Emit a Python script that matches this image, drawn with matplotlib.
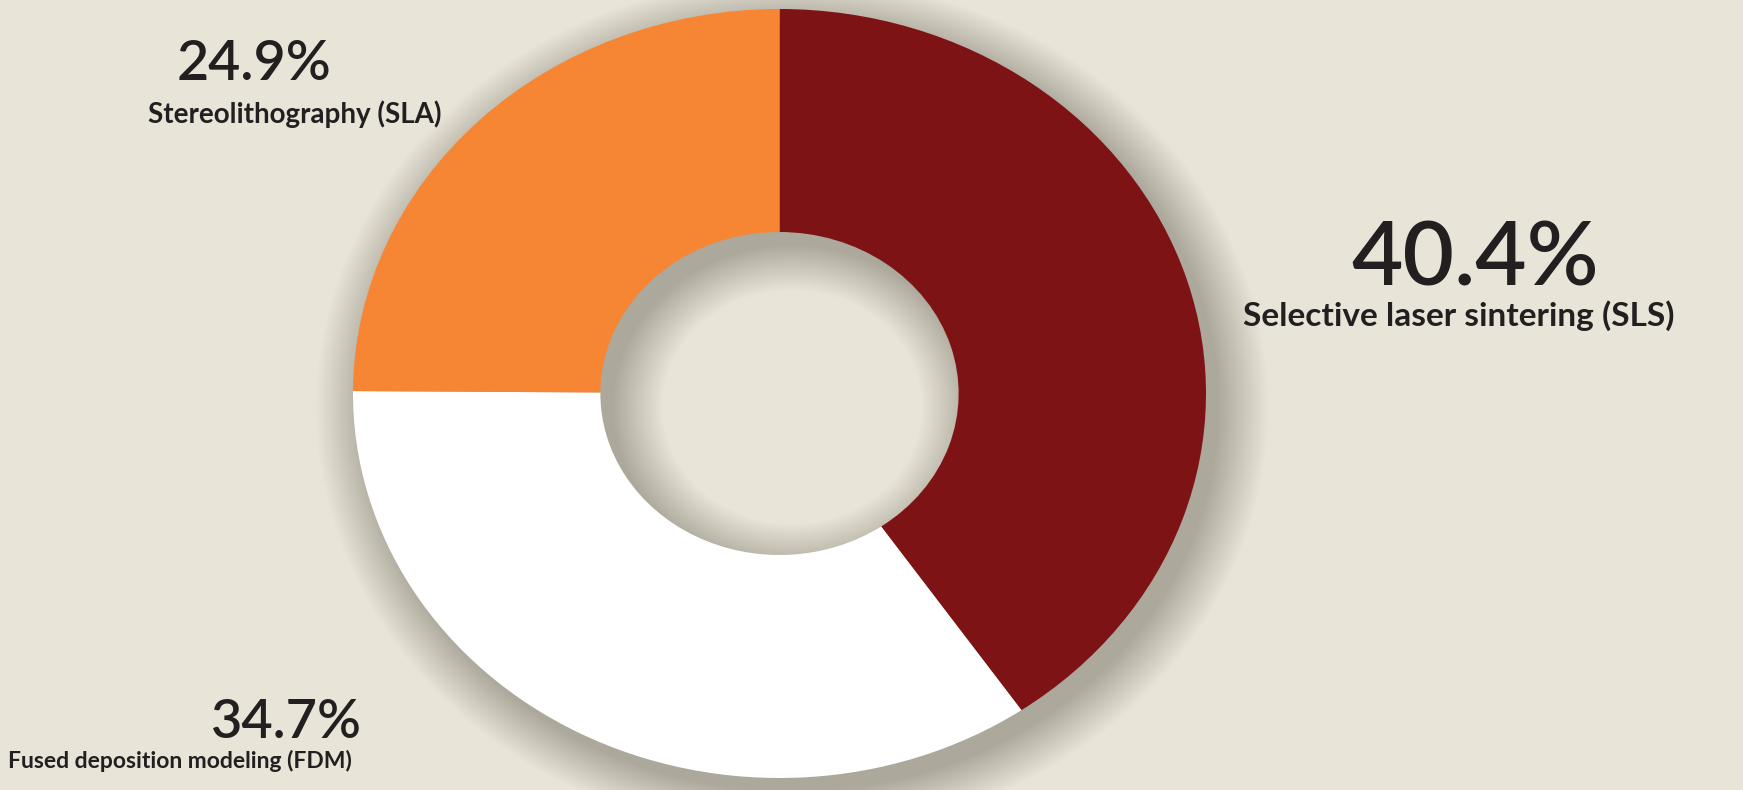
import matplotlib
matplotlib.use('Agg')
import matplotlib.pyplot as plt
from matplotlib.patches import Wedge

# data
labels = ['Selective laser sintering (SLS)', 'Fused deposition modeling (FDM)', 'Stereolithography (SLA)']
shares = [40.4, 34.7, 24.9]
colors = ['#7E1315', '#FFFFFF', '#F68634']

bg = '#E8E4D7'
ink = '#231F20'

fig = plt.figure(figsize=(17.43, 7.90), dpi=100, facecolor=bg)

# axes box matches the (slightly stretched) donut in the reference
W, H = 1743, 790
left, right, top, bottom = 353, 1206, 9, 778
ax = fig.add_axes([left / W, 1 - bottom / H, (right - left) / W, (bottom - top) / H])
ax.set_facecolor(bg)
ax.patch.set_visible(False)

ring_w = 0.58

# soft drop shadow (light from upper left)
n = 30
for k in range(n):
    spread = 0.004 * k
    ax.add_patch(Wedge((0.03, -0.035), 1.0 + spread, 0, 360,
                       width=ring_w + 2 * spread, clip_on=False,
                       facecolor='#6a6a5c', edgecolor='none', alpha=0.016))

ax.pie(shares, colors=colors, startangle=90, counterclock=False,
       radius=1.0, wedgeprops=dict(width=ring_w, edgecolor='none'))

ax.set_aspect('auto')
ax.set_xlim(-1, 1)
ax.set_ylim(-1, 1)
ax.axis('off')

font = ['Lato', 'DejaVu Sans']


def put(x, y, s, size, weight):
    fig.text(x / W, 1 - y / H, s, ha='center', va='center', fontsize=size,
             fontweight=weight, color=ink, family=font)


# SLS
put(1475, 260, f'{shares[0]}%', 64, 'semibold')
put(1459, 316, labels[0], 24, 'bold')
# FDM
put(286, 722, f'{shares[1]}%', 39, 'semibold')
put(180, 761, labels[1], 16.5, 'bold')
# SLA
put(254, 64, f'{shares[2]}%', 40, 'semibold')
put(295, 114, labels[2], 20, 'bold')

fig.savefig('out.png', dpi=100, facecolor=bg)
